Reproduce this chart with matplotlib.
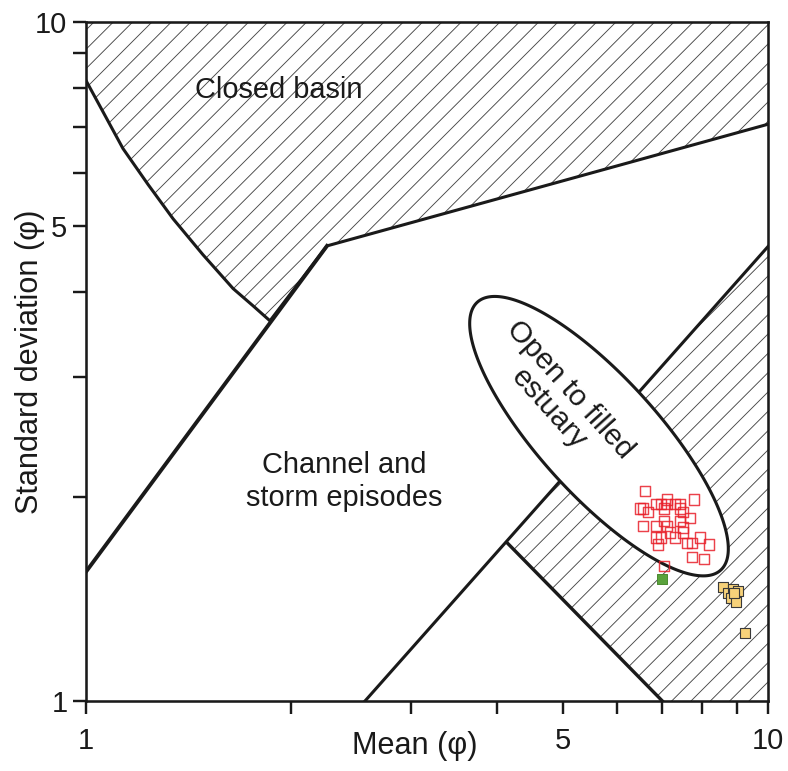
import numpy as np
import matplotlib
matplotlib.use("Agg")
import matplotlib.pyplot as plt
from matplotlib.ticker import FixedLocator, FixedFormatter, NullFormatter

plt.rcParams["font.family"] = ["Liberation Sans", "DejaVu Sans"]
plt.rcParams["hatch.linewidth"] = 0.55
plt.rcParams["hatch.color"] = "#444444"

# Field boundaries in (mean, standard deviation), both in phi units
basin_mean = [1.0, 1.0, 1.133, 1.233, 1.342, 1.484, 1.643, 1.758, 1.861,
              2.256, 10.0, 10.0]
basin_sd = [10.0, 8.2, 6.51, 5.764, 5.13, 4.543, 4.05, 3.819, 3.63,
            4.68, 7.07, 10.0]

channel_mean = [1.0, 2.256]
channel_sd = [1.55, 4.68]

upper_mean = [2.565, 10.0]
upper_sd = [1.0, 4.67]

wedge_mean = [4.14, 10.0, 10.0, 7.0]
wedge_sd = [1.712, 4.67, 1.0, 1.0]

# Open-to-filled estuary field: ellipse in log space
est_center = (5.652, 2.455)
est_semi_axes = (0.266, 0.0868)   # decades
est_angle = -47.9                 # degrees

# Samples
red_mean = [6.60, 7.11, 7.79, 6.49, 6.56, 6.67, 6.85, 6.97, 7.11, 7.31, 7.43,
            7.43, 6.56, 6.85, 7.04, 7.43, 7.69, 7.51, 6.85, 7.18, 7.31, 7.51,
            7.61, 7.74, 7.95, 8.20, 6.90, 7.74, 8.06, 7.04, 7.11, 6.97, 7.04,
            7.51]
red_sd = [2.04, 1.98, 1.98, 1.92, 1.92, 1.90, 1.95, 1.95, 1.95, 1.95, 1.95,
          1.92, 1.81, 1.81, 1.84, 1.84, 1.86, 1.80, 1.74, 1.77, 1.74, 1.77,
          1.71, 1.71, 1.74, 1.70, 1.70, 1.63, 1.62, 1.58, 1.81, 1.74, 1.92,
          1.90]
green_mean = [6.985]
green_sd = [1.514]
yellow_mean = [8.59, 8.74, 8.89, 9.04, 8.83, 8.98, 8.92, 9.25]
yellow_sd = [1.47, 1.44, 1.46, 1.45, 1.42, 1.40, 1.44, 1.26]

dpi = 116
fig = plt.figure(figsize=(788 / dpi, 771 / dpi), dpi=dpi)
ax = fig.add_axes([86 / 788, 70 / 771, 682 / 788, 679 / 771])
ax.set_xscale("log")
ax.set_yscale("log")
ax.set_xlim(1, 10)
ax.set_ylim(1, 10)

# hatched fields
ax.fill(basin_mean, basin_sd, facecolor="white", edgecolor="#444444",
        hatch="//", linewidth=0, zorder=1)
ax.fill(wedge_mean, wedge_sd, facecolor="white", edgecolor="#444444",
        hatch="//", linewidth=0, zorder=1)

# boundary lines
ax.plot(basin_mean[1:-1], basin_sd[1:-1], color="#1a1a1a", lw=1.9, zorder=2)
ax.plot(channel_mean, channel_sd, color="#1a1a1a", lw=2.4, zorder=2)
ax.plot(upper_mean, upper_sd, color="#1a1a1a", lw=1.9, zorder=2)
ax.plot([wedge_mean[0], wedge_mean[3]], [wedge_sd[0], wedge_sd[3]],
        color="#1a1a1a", lw=2.1, zorder=2)

# estuary ellipse
t = np.linspace(0, 2 * np.pi, 400)
th = np.deg2rad(est_angle)
ea, eb = est_semi_axes
u = ea * np.cos(t)
v = eb * np.sin(t)
lx = np.log10(est_center[0]) + u * np.cos(th) - v * np.sin(th)
ly = np.log10(est_center[1]) + u * np.sin(th) + v * np.cos(th)
ax.fill(10 ** lx, 10 ** ly, facecolor="white", edgecolor="#1a1a1a",
        linewidth=1.9, zorder=3)

# samples
ax.scatter(red_mean, red_sd, marker="s", s=42, facecolors="none",
           edgecolors="#e8202a", linewidths=0.9, alpha=0.85, zorder=4)
ax.scatter(green_mean, green_sd, marker="s", s=40, facecolors="#5aa23c",
           edgecolors="#4a8a30", linewidths=0.6, zorder=4)
ax.scatter(yellow_mean, yellow_sd, marker="s", s=44, facecolors="#f7d27a",
           edgecolors="#3a3a3a", linewidths=0.7, zorder=4)

# field labels
ax.text(1.919, 7.95, "Closed basin", fontsize=18, ha="center", va="center",
        color="#1a1a1a", zorder=5)
ax.text(2.389, 2.106, "Channel and\nstorm episodes", fontsize=18,
        ha="center", va="center", linespacing=1.25, color="#1a1a1a", zorder=5)
ax.text(4.95, 2.78, "Open to filled\nestuary", fontsize=18.5, ha="center",
        va="center", rotation=-48, rotation_mode="anchor", linespacing=1.0,
        color="#1a1a1a", zorder=5)

# axes styling
for side in ["left", "bottom", "right", "top"]:
    ax.spines[side].set_linewidth(1.6)
    ax.spines[side].set_color("#1a1a1a")
    ax.spines[side].set_zorder(6)

for axis in (ax.xaxis, ax.yaxis):
    axis.set_major_locator(FixedLocator([1, 5, 10]))
    axis.set_major_formatter(FixedFormatter(["1", "5", "10"]))
    axis.set_minor_locator(FixedLocator([2, 3, 4, 6, 7, 8, 9]))
    axis.set_minor_formatter(NullFormatter())

ax.tick_params(which="both", direction="out", length=8, width=1.5,
               color="#1a1a1a", labelsize=18, labelcolor="#1a1a1a")
ax.tick_params(axis="x", which="both", pad=8)
ax.tick_params(axis="y", which="both", pad=3.5)

ax.set_xlabel("Mean (\u03c6)", fontsize=19, color="#1a1a1a")
ax.set_ylabel("Standard deviation (\u03c6)", fontsize=19, color="#1a1a1a")
ax.xaxis.set_label_coords(0.482, -0.044)
ax.yaxis.set_label_coords(-0.060, 0.5)

fig.savefig("out.png", dpi=dpi)
